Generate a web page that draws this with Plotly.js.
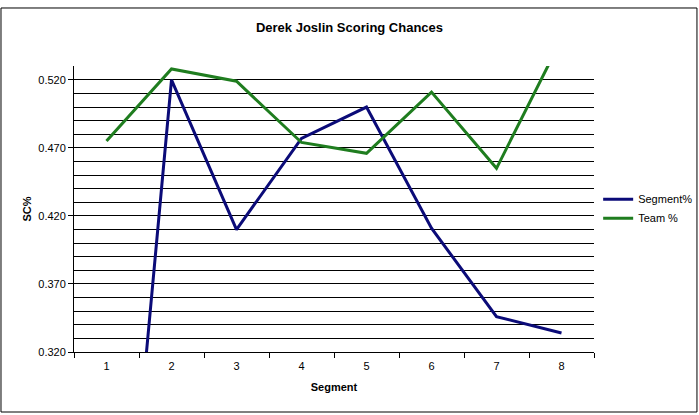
<!DOCTYPE html>
<html>
<head>
<meta charset="utf-8">
<script src="https://cdn.plot.ly/plotly-3.0.1.min.js"></script>
<style>html,body{margin:0;padding:0;background:#fff;}#chart{width:699px;height:415px;}</style>
</head>
<body>
<div id="chart"></div>
<script>
const segments = ['1', '2', '3', '4', '5', '6', '7', '8'];
const segmentPct = [0.000, 0.520, 0.410, 0.477, 0.500, 0.411, 0.346, 0.334];
const teamPct = [0.475, 0.528, 0.519, 0.474, 0.466, 0.511, 0.455, 0.550];
const yTickVals = [0.32, 0.37, 0.42, 0.47, 0.52];
const yTickText = ['0.320', '0.370', '0.420', '0.470', '0.520'];

const font = 'Liberation Sans, Arial, sans-serif';

const traces = [
  {x: segments, y: segmentPct, name: 'Segment%', type: 'scatter', mode: 'lines',
   line: {color: '#0b0b78', width: 3}},
  {x: segments, y: teamPct, name: 'Team %', type: 'scatter', mode: 'lines',
   line: {color: '#1f7d1f', width: 3}}
];

const layout = {
  width: 699, height: 415,
  margin: {l: 74, r: 105, t: 66, b: 63, autoexpand: false},
  paper_bgcolor: '#fff', plot_bgcolor: '#fff',
  font: {family: font, size: 11, color: '#000'},
  title: {text: '<b>Derek Joslin Scoring Chances</b>', font: {family: font, size: 13, color: '#000'},
          x: 0.5, xref: 'container', y: 1 - 27/415, yref: 'container', yanchor: 'middle'},
  xaxis: {
    type: 'category', range: [-0.5, 7.5], tickson: 'boundaries',
    ticks: 'outside', ticklen: 5, tickcolor: '#000', showgrid: false, zeroline: false,
    showline: true, linecolor: '#000', linewidth: 1, ticklabelstandoff: 4,
    tickfont: {family: font, size: 11, color: '#000'},
    title: {text: '<b>Segment</b>', font: {family: font, size: 11, color: '#000'}, standoff: 12}
  },
  yaxis: {
    range: [0.32, 0.5302], tickvals: yTickVals, ticktext: yTickText,
    ticks: 'outside', ticklen: 5, tickcolor: '#000',
    showgrid: true, gridcolor: '#000', gridwidth: 1, zeroline: false,
    showline: true, linecolor: '#000', linewidth: 1,
    minor: {dtick: 0.01, tick0: 0.32, showgrid: true, gridcolor: '#000', gridwidth: 1, ticks: ''},
    tickfont: {family: font, size: 11, color: '#000'},
    title: {text: '<b>SC%</b>', font: {family: font, size: 11, color: '#000'}, standoff: 4}
  },
  showlegend: true,
  legend: {x: 1.008, xanchor: 'left', y: 0.585, yanchor: 'top', bgcolor: 'rgba(0,0,0,0)',
           font: {family: font, size: 11, color: '#000'}, tracegroupgap: 0, itemwidth: 30},
  shapes: [
    {type: 'rect', xref: 'paper', yref: 'paper', x0: -0.1404, x1: 1.198, y0: -0.2098, y1: 1.2028,
     line: {color: '#000', width: 1}, fillcolor: 'rgba(0,0,0,0)', layer: 'above'}
  ]
};

Plotly.newPlot('chart', traces, layout, {displayModeBar: false, staticPlot: true});
</script>
</body>
</html>
